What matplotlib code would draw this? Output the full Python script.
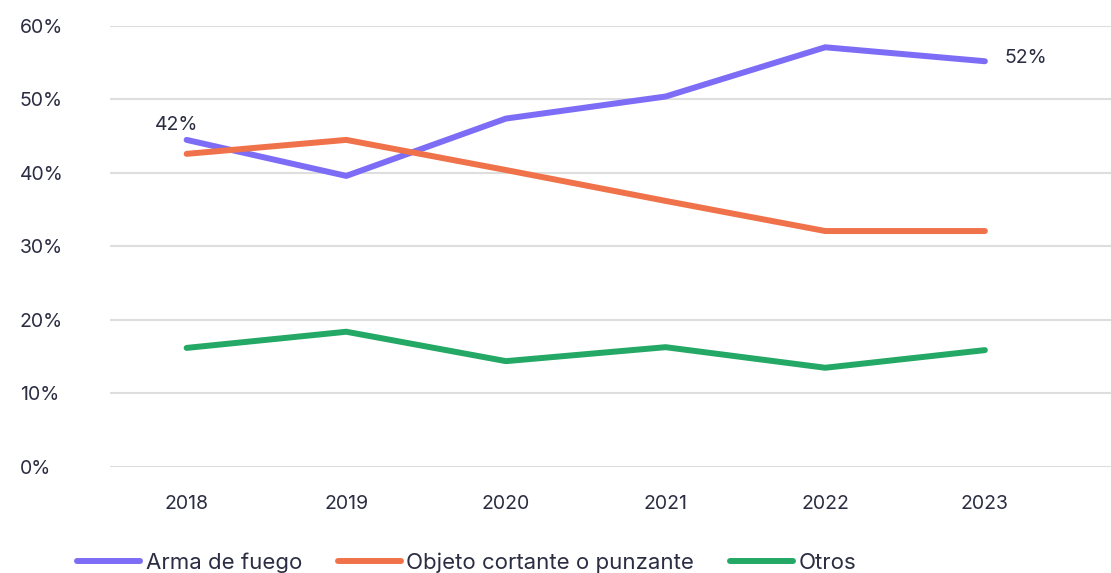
import matplotlib
matplotlib.use('Agg')
import matplotlib.pyplot as plt

years = ['2018', '2019', '2020', '2021', '2022', '2023']
arma_fuego = [44.5, 39.6, 47.4, 50.4, 57.1, 55.2]
objeto_cortante = [42.6, 44.5, 40.4, 36.2, 32.1, 32.1]
otros = [16.2, 18.4, 14.4, 16.3, 13.5, 15.9]
first_label = '42%'
last_label = '52%'
y_ticks = [0, 10, 20, 30, 40, 50, 60]

TEXT = '#2b2d42'
plt.rcParams['font.family'] = ['Inter', 'DejaVu Sans']

fig = plt.figure(figsize=(11.11, 5.73), dpi=100)
ax = fig.add_axes([0.099, 0.185, 0.901, 0.7697])

x = range(len(years))
series = [
    ('Arma de fuego', arma_fuego, '#7d6cf6'),
    ('Objeto cortante o punzante', objeto_cortante, '#f0724a'),
    ('Otros', otros, '#24a865'),
]
for name, vals, col in series:
    ax.plot(x, vals, color=col, linewidth=4.3, solid_capstyle='round',
            solid_joinstyle='round', label=name, zorder=3)

# value labels on first/last point of the firearm series
ax.annotate(first_label, (0, arma_fuego[0]), xytext=(-7, 4), textcoords='offset points',
            ha='center', va='bottom', fontsize=14, color=TEXT)
ax.annotate(last_label, (len(years) - 1, arma_fuego[-1]), xytext=(14, 2), textcoords='offset points',
            ha='left', va='center', fontsize=14, color=TEXT)

ax.set_xlim(-0.48, 5.79)
ax.set_ylim(0, 60)
ax.set_yticks(y_ticks)
ax.set_yticklabels([f'{v}%' for v in y_ticks])
ax.set_xticks(list(x))
ax.set_xticklabels(years)
ax.grid(axis='y', color='#dedede', linewidth=1.5, zorder=0)
ax.set_axisbelow(True)
for s in ax.spines.values():
    s.set_visible(False)
ax.tick_params(axis='both', length=0, labelsize=14, colors=TEXT)
ax.tick_params(axis='x', pad=20)
ax.tick_params(axis='y', pad=65)
for lbl in ax.get_yticklabels():
    lbl.set_horizontalalignment('left')

fig.legend(loc='center', bbox_to_anchor=(0.42, 0.018), ncol=3, frameon=False,
           fontsize=16, handlelength=2.85, columnspacing=1.6, handletextpad=0.25,
           labelcolor=TEXT)

fig.savefig('out.png', dpi=100)
